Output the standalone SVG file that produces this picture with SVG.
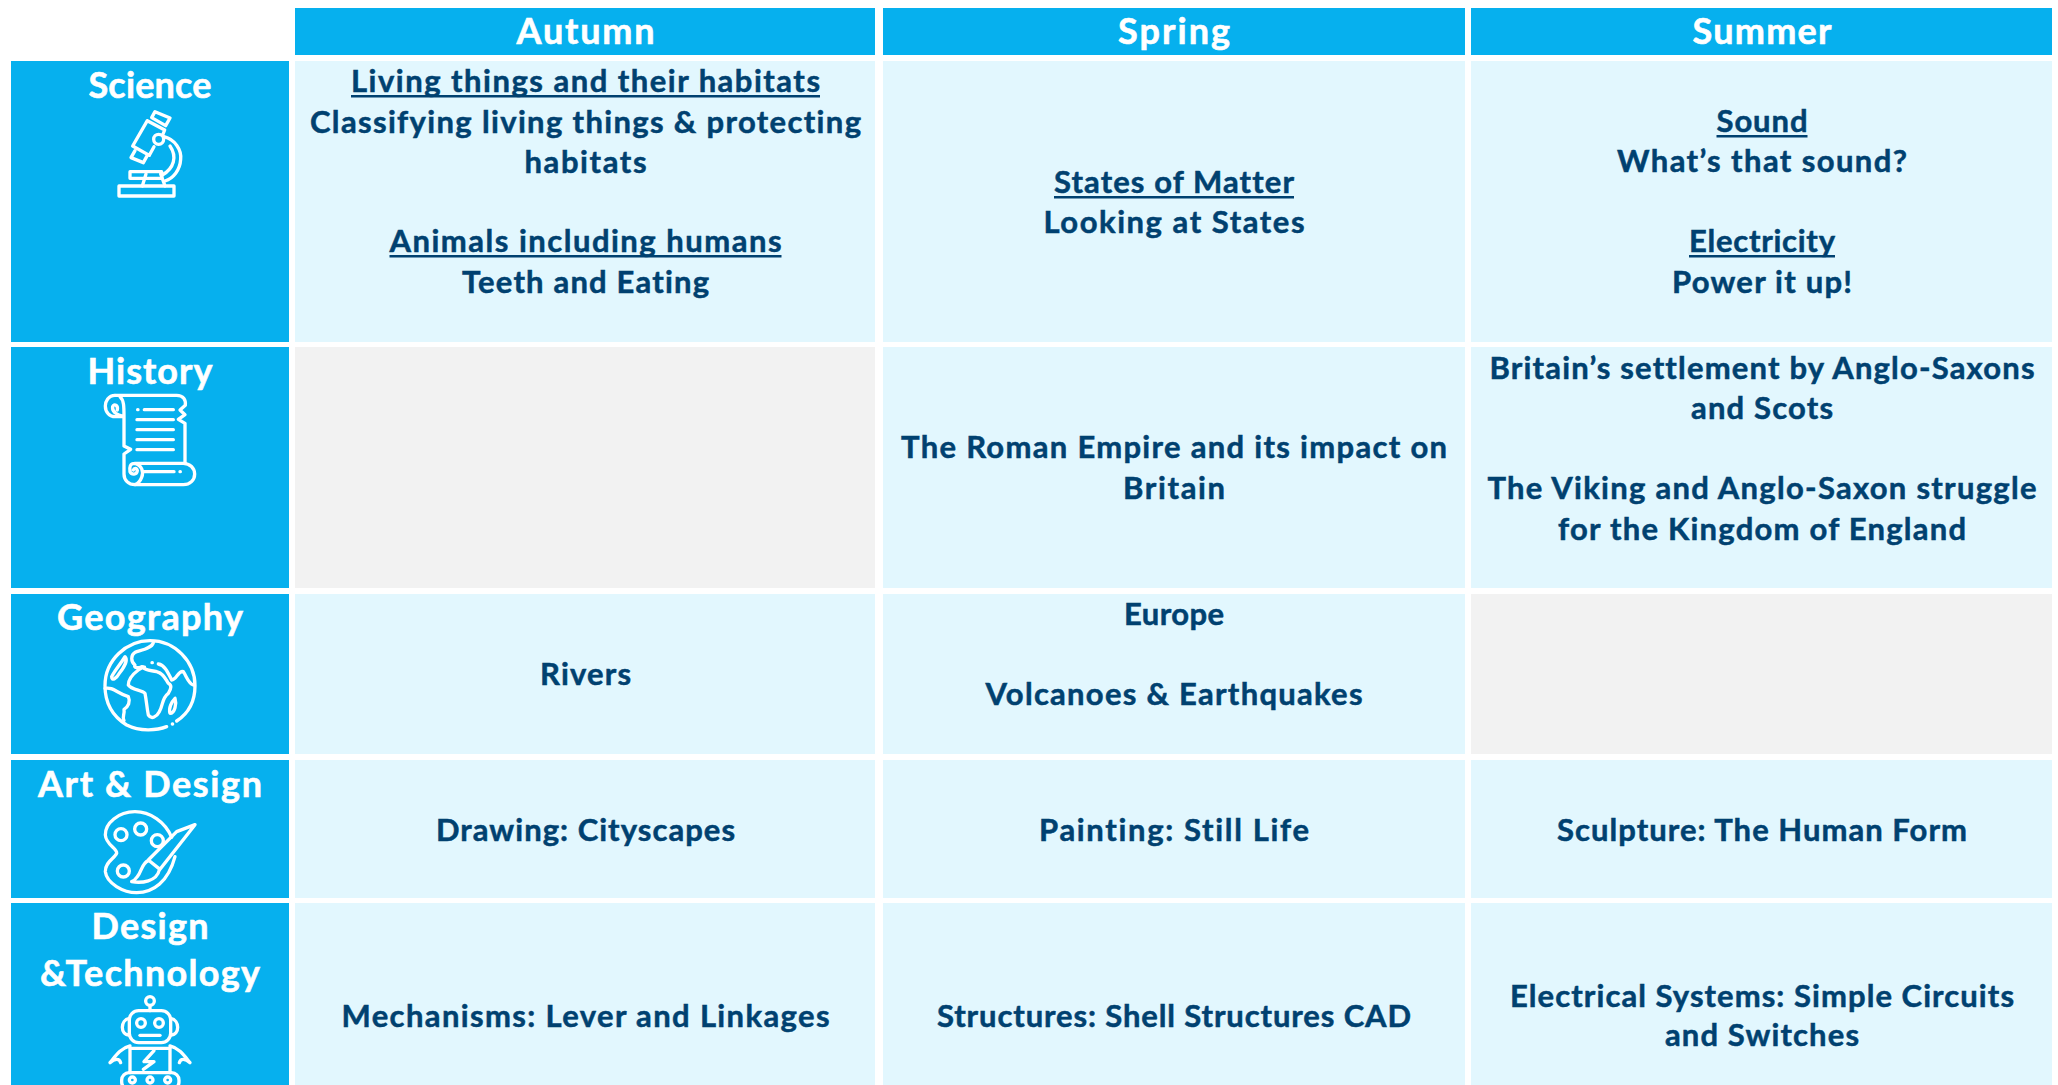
<svg xmlns="http://www.w3.org/2000/svg" width="2058" height="1085" viewBox="0 0 2058 1085">
<style>
.h{fill:#06B0EE}.c{fill:#E2F7FE}.g{fill:#F2F2F2}
text{font-family:"Lato","Noto Sans",sans-serif;font-weight:700;text-anchor:middle;font-variant-ligatures:none}
.t{font-size:36px;fill:#fff;stroke:#fff;stroke-width:.6px}
.b{font-size:31px;fill:#004170;stroke:#004170;stroke-width:.5px}
.u{fill:#004170}
.i{fill:none;stroke:#fff;stroke-width:10;stroke-linecap:round;stroke-linejoin:round}
</style>
<rect width="2058" height="1085" fill="#fff"/>
<g id="header-autumn"><rect class="h" x="295" y="8" width="580" height="47"/><text class="t" x="585.5" y="44" textLength="138">Autumn</text></g>
<g id="header-spring"><rect class="h" x="883" y="8" width="582" height="47"/><text class="t" x="1174" y="44" textLength="112">Spring</text></g>
<g id="header-summer"><rect class="h" x="1471" y="8" width="581" height="47"/><text class="t" x="1762" y="44" textLength="139">Summer</text></g>

<g id="row-science">
<rect class="h" x="11" y="61" width="278" height="281"/>
<text class="t" x="150" y="98" textLength="123">Science</text>
<g class="i" transform="scale(.33333)">
<path d="M465,335L510,354L497,377L455,353Z"/>
<path d="M442,362L398,438L448,466L462,440M442,362L494,390L488,405"/>
<path d="M405,452L393,473L430,488L442,466"/>
<circle cx="476" cy="418" r="15"/>
<path d="M492,410C525,418 545,450 542,478C540,510 520,535 495,543M510,438C532,470 522,505 487,525"/>
<rect x="390" y="515" width="95" height="20"/>
<rect x="357" y="558" width="165" height="30"/>
<path d="M438,522L427,558M482,522L495,558"/>
</g>
</g>
<g id="cell-science-autumn"><rect class="c" x="295" y="61" width="580" height="281"/>
<text class="b" x="585.5" y="92" textLength="469">Living things and their habitats</text>
<rect class="u" x="351" y="95" width="469" height="2.5"/>
<text class="b" x="585.5" y="133" textLength="551">Classifying living things &amp; protecting</text>
<text class="b" x="585.5" y="173" textLength="122">habitats</text>
<text class="b" x="585.5" y="252" textLength="392">Animals including humans</text>
<rect class="u" x="389.5" y="255" width="392" height="2.5"/>
<text class="b" x="585.5" y="293" textLength="247">Teeth and Eating</text></g>
<g id="cell-science-spring"><rect class="c" x="883" y="61" width="582" height="281"/>
<text class="b" x="1174" y="193" textLength="240">States of Matter</text>
<rect class="u" x="1054" y="196" width="240" height="2.5"/>
<text class="b" x="1174" y="233" textLength="261">Looking at States</text></g>
<g id="cell-science-summer"><rect class="c" x="1471" y="61" width="581" height="281"/>
<text class="b" x="1762" y="132" textLength="91">Sound</text>
<rect class="u" x="1716.5" y="135" width="91" height="2.5"/>
<text class="b" x="1762" y="172" textLength="290">What’s that sound?</text>
<text class="b" x="1762" y="252" textLength="146">Electricity</text>
<rect class="u" x="1689" y="255" width="146" height="2.5"/>
<text class="b" x="1762" y="293" textLength="180">Power it up!</text></g>

<g id="row-history">
<rect class="h" x="11" y="347" width="278" height="241"/>
<text class="t" x="150" y="384" textLength="125">History</text>
<g class="i" transform="translate(0,340) scale(.33333)">
<path d="M345,166L530,166C550,166 558,180 556,196L540,210L555,224L535,238L555,250L555,368"/>
<path d="M345,166C325,166 316,185 316,198C316,218 330,230 345,230L372,230C352,225 335,215 338,200C342,190 355,195 352,210M360,170C372,180 372,200 372,230L372,318L392,328L372,342L372,402C372,420 385,434 405,434L550,434C570,434 584,420 584,402C584,385 570,370 550,370L405,370C390,370 388,380 390,395C395,405 410,405 412,392C410,382 402,384 400,390M405,370C425,375 432,395 425,412C420,425 415,430 405,434"/>
<path d="M413,209h1M433,209H520M411,239H520M411,269H520M411,299H520M411,329H520M432,395H522M540,395h1"/>
</g>
</g>
<g id="cell-history-autumn"><rect class="g" x="295" y="347" width="580" height="241"/></g>
<g id="cell-history-spring"><rect class="c" x="883" y="347" width="582" height="241"/>
<text class="b" x="1174" y="458" textLength="546">The Roman Empire and its impact on</text>
<text class="b" x="1174" y="499" textLength="102">Britain</text></g>
<g id="cell-history-summer"><rect class="c" x="1471" y="347" width="581" height="241"/>
<text class="b" x="1762" y="379" textLength="545">Britain’s settlement by Anglo-Saxons</text>
<text class="b" x="1762" y="419" textLength="142">and Scots</text>
<text class="b" x="1762" y="499" textLength="549">The Viking and Anglo-Saxon struggle</text>
<text class="b" x="1762" y="540" textLength="408">for the Kingdom of England</text></g>

<g id="row-geography">
<rect class="h" x="11" y="594" width="278" height="160"/>
<text class="t" x="150" y="630" textLength="186">Geography</text>
<g class="i" transform="translate(0,340) scale(.33333)">
<path d="M500,1160C470,1172 420,1175 380,1155C340,1130 315,1090 315,1037C315,960 380,902 450,902C525,902 585,965 585,1037C585,1085 565,1120 530,1143"/>
<path d="M517,1152h1M456,968h1"/>
<path d="M460,908C455,925 425,930 405,937C392,945 392,965 405,975C400,985 415,985 425,980C440,985 435,975 415,990C395,1005 385,1020 385,1035C395,1050 425,1050 435,1060C440,1085 440,1100 445,1125C455,1140 470,1130 478,1115C490,1095 485,1075 505,1060C515,1045 515,1035 505,1030C495,1015 490,1000 470,995C455,990 440,995 425,980"/>
<path d="M475,972C495,975 505,1000 515,1020C530,1020 535,990 550,995C560,1010 565,1030 580,1035"/>
<path d="M375,950C360,975 345,990 335,1010C335,1025 350,1015 358,1000C370,985 385,960 375,950Z"/>
<path d="M315,1045C340,1040 350,1060 385,1070C392,1085 385,1100 372,1108C375,1125 365,1130 372,1142"/>
<path d="M525,1075C515,1085 505,1105 510,1120C525,1120 530,1090 525,1075Z"/>
</g>
</g>
<g id="cell-geography-autumn"><rect class="c" x="295" y="594" width="580" height="160"/>
<text class="b" x="585.5" y="685" textLength="91">Rivers</text></g>
<g id="cell-geography-spring"><rect class="c" x="883" y="594" width="582" height="160"/>
<text class="b" x="1174" y="625" textLength="100">Europe</text>
<text class="b" x="1174" y="705" textLength="377">Volcanoes &amp; Earthquakes</text></g>
<g id="cell-geography-summer"><rect class="g" x="1471" y="594" width="581" height="160"/></g>

<g id="row-art">
<rect class="h" x="11" y="760" width="278" height="138"/>
<text class="t" x="150" y="797" textLength="224">Art &amp; Design</text>
<g class="i" transform="translate(0,750) scale(.33333)">
<path d="M515,262C495,215 450,185 405,185C355,185 315,220 316,255C318,285 352,295 350,310C345,325 315,335 316,365C320,400 370,428 410,428C460,428 505,395 525,320"/>
<circle cx="363" cy="254" r="18"/><circle cx="422" cy="237" r="18"/><circle cx="472" cy="272" r="18"/><circle cx="370" cy="363" r="18"/>
<path d="M585,224L530,245L445,330L480,358L585,224Z"/>
<path d="M445,332C425,340 425,365 412,380C405,390 400,393 395,395C425,400 470,395 478,360"/>
</g>
</g>
<g id="cell-art-autumn"><rect class="c" x="295" y="760" width="580" height="138"/>
<text class="b" x="585.5" y="841" textLength="299">Drawing: Cityscapes</text></g>
<g id="cell-art-spring"><rect class="c" x="883" y="760" width="582" height="138"/>
<text class="b" x="1174" y="841" textLength="270">Painting: Still Life</text></g>
<g id="cell-art-summer"><rect class="c" x="1471" y="760" width="581" height="138"/>
<text class="b" x="1762" y="841" textLength="410">Sculpture: The Human Form</text></g>

<g id="row-dt">
<rect class="h" x="11" y="903" width="278" height="182"/>
<text class="t" x="150" y="939" textLength="117">Design</text>
<text class="t" x="150" y="986" textLength="220">&amp;Technology</text>
<g class="i" transform="translate(0,750) scale(.33333)">
<circle cx="450" cy="753" r="13"/>
<path d="M450,766V782"/>
<rect x="388" y="782" width="124" height="96" rx="28"/>
<path d="M388,805C360,810 360,855 388,855M512,805C540,810 540,855 512,855"/>
<circle cx="423" cy="819" r="13"/><circle cx="477" cy="819" r="13"/>
<path d="M420,856H480"/>
<path d="M390,895H510M390,895V968M510,895V968M390,888C360,895 345,920 330,938C345,925 358,925 362,938M510,888C540,895 555,920 570,938C555,925 542,925 538,938"/>
<path d="M462,902L432,935H462L430,958"/>
<rect x="365" y="968" width="172" height="50" rx="22"/>
<circle cx="397" cy="990" r="9"/><circle cx="450" cy="990" r="9"/><circle cx="503" cy="990" r="9"/>
</g>
</g>
<g id="cell-dt-autumn"><rect class="c" x="295" y="903" width="580" height="182"/>
<text class="b" x="585.5" y="1027" textLength="488">Mechanisms: Lever and Linkages</text></g>
<g id="cell-dt-spring"><rect class="c" x="883" y="903" width="582" height="182"/>
<text class="b" x="1174" y="1027" textLength="474">Structures: Shell Structures CAD</text></g>
<g id="cell-dt-summer"><rect class="c" x="1471" y="903" width="581" height="182"/>
<text class="b" x="1762" y="1007" textLength="504">Electrical Systems: Simple Circuits</text>
<text class="b" x="1762" y="1046" textLength="194">and Switches</text></g>
</svg>
